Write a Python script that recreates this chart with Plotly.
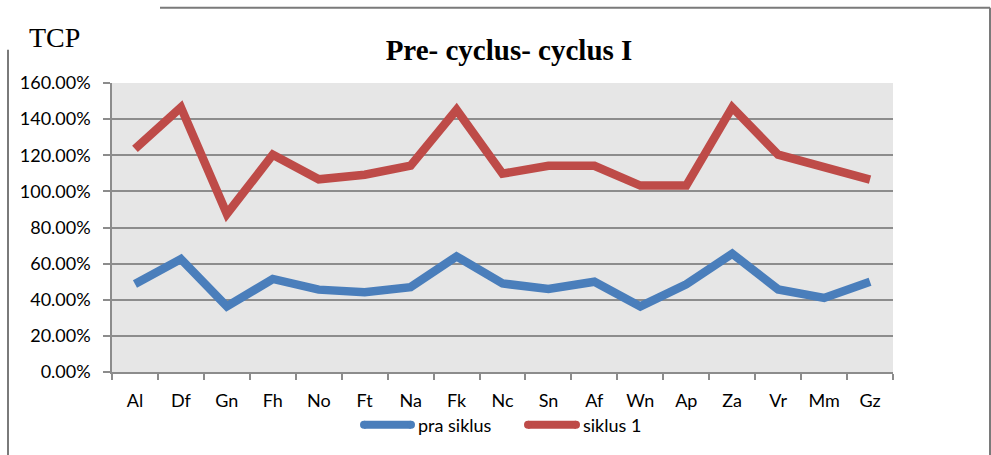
import plotly.graph_objects as go

categories = ["Al", "Df", "Gn", "Fh", "No", "Ft", "Na", "Fk", "Nc", "Sn", "Af", "Wn", "Ap", "Za", "Vr", "Mm", "Gz"]
pra_siklus = [48.7, 62.5, 36.3, 51.5, 45.6, 44.1, 47.0, 64.0, 49.0, 46.0, 50.0, 36.3, 48.5, 65.5, 45.7, 41.0, 50.0]
siklus_1 = [123.5, 146.5, 87.5, 120.3, 106.7, 109.2, 114.2, 145.2, 109.8, 114.2, 114.2, 103.2, 103.2, 146.5, 120.3, 112.8, 106.5]
series_names = ["pra siklus", "siklus 1"]
series_colors = ["#4A7EBB", "#BE4B48"]
title_text = "Pre- cyclus- cyclus I"
side_label = "TCP"

W, H = 991, 455
# plot area in window pixel coordinates
L, R, T, B = 112, 893, 83.3, 372.3

def px(x):
    return (x - L) / (R - L)

def py(y):
    return (B - y) / (B - T)

fig = go.Figure()
for name, vals, col in zip(series_names, [pra_siklus, siklus_1], series_colors):
    fig.add_trace(go.Scatter(x=categories, y=vals, name=name, mode="lines",
                             line=dict(color=col, width=8.5), showlegend=False))

frame = dict(color="#7A7A7A", width=2)
shapes = [
    dict(type="line", xref="paper", yref="paper", x0=px(160), x1=px(990), y0=py(8), y1=py(8), line=frame),
    dict(type="line", xref="paper", yref="paper", x0=px(990), x1=px(990), y0=py(8), y1=py(460), line=frame),
    dict(type="line", xref="paper", yref="paper", x0=px(8), x1=px(8), y0=py(50), y1=py(460), line=frame),
]

annotations = [dict(text=side_label, xref="paper", yref="paper", x=px(27), y=py(38),
                    xanchor="left", yanchor="middle", showarrow=False,
                    font=dict(family="Liberation Serif, serif", size=28, color="black"))]

# custom legend (long line symbols as in the reference)
legend_pos = [(360, 415, 416), (524, 580, 581)]
LEG_Y = 425
for (x0, x1, tx), name, col in zip(legend_pos, series_names, series_colors):
    shapes.append(dict(type="line", xref="paper", yref="paper", x0=px(x0 + 4), x1=px(x1 - 4),
                       y0=py(LEG_Y), y1=py(LEG_Y), line=dict(color=col, width=8)))
    shapes.append(dict(type="circle", xref="paper", yref="paper", x0=px(x0), x1=px(x0 + 8),
                       y0=py(LEG_Y - 4), y1=py(LEG_Y + 4), line=dict(width=0), fillcolor=col))
    shapes.append(dict(type="circle", xref="paper", yref="paper", x0=px(x1 - 8), x1=px(x1),
                       y0=py(LEG_Y - 4), y1=py(LEG_Y + 4), line=dict(width=0), fillcolor=col))
    annotations.append(dict(text=name, xref="paper", yref="paper", x=px(tx), y=py(LEG_Y),
                            xanchor="left", yanchor="middle", showarrow=False,
                            font=dict(size=18, color="black")))

fig.update_layout(
    width=W, height=H,
    margin=dict(l=L, r=W - R, t=T, b=H - B, autoexpand=False),
    paper_bgcolor="white",
    plot_bgcolor="#E6E6E6",
    font=dict(family="Lato, Liberation Sans, sans-serif", size=18, color="black"),
    title=dict(text="<b>" + title_text + "</b>", x=509 / W, xref="container", xanchor="center",
               y=1 - 50 / H, yref="container", yanchor="middle",
               font=dict(family="Liberation Serif, serif", size=29, color="black")),
    showlegend=False,
    shapes=shapes,
    annotations=annotations,
    xaxis=dict(type="category", showgrid=False, showline=True, linecolor="#8C8C8C", linewidth=1.5,
               ticks="outside", tickson="boundaries", ticklen=6, tickcolor="#8C8C8C", tickwidth=1.5,
               ticklabelstandoff=12, tickfont=dict(size=18), fixedrange=True,
               range=[-0.5, len(categories) - 0.5]),
    yaxis=dict(range=[0, 160], dtick=20, tick0=0, tickformat=".2f", ticksuffix="%",
               showgrid=True, gridcolor="#8C8C8C", gridwidth=1.5,
               showline=True, linecolor="#8C8C8C", linewidth=1.5, zeroline=False,
               ticks="outside", ticklen=7, tickcolor="#8C8C8C", tickwidth=1.5,
               ticklabelstandoff=9, tickfont=dict(size=18), fixedrange=True),
)

fig.write_html("out.html", config={"displayModeBar": False},
               post_script="document.body.style.margin='0';document.body.style.overflow='hidden';")
